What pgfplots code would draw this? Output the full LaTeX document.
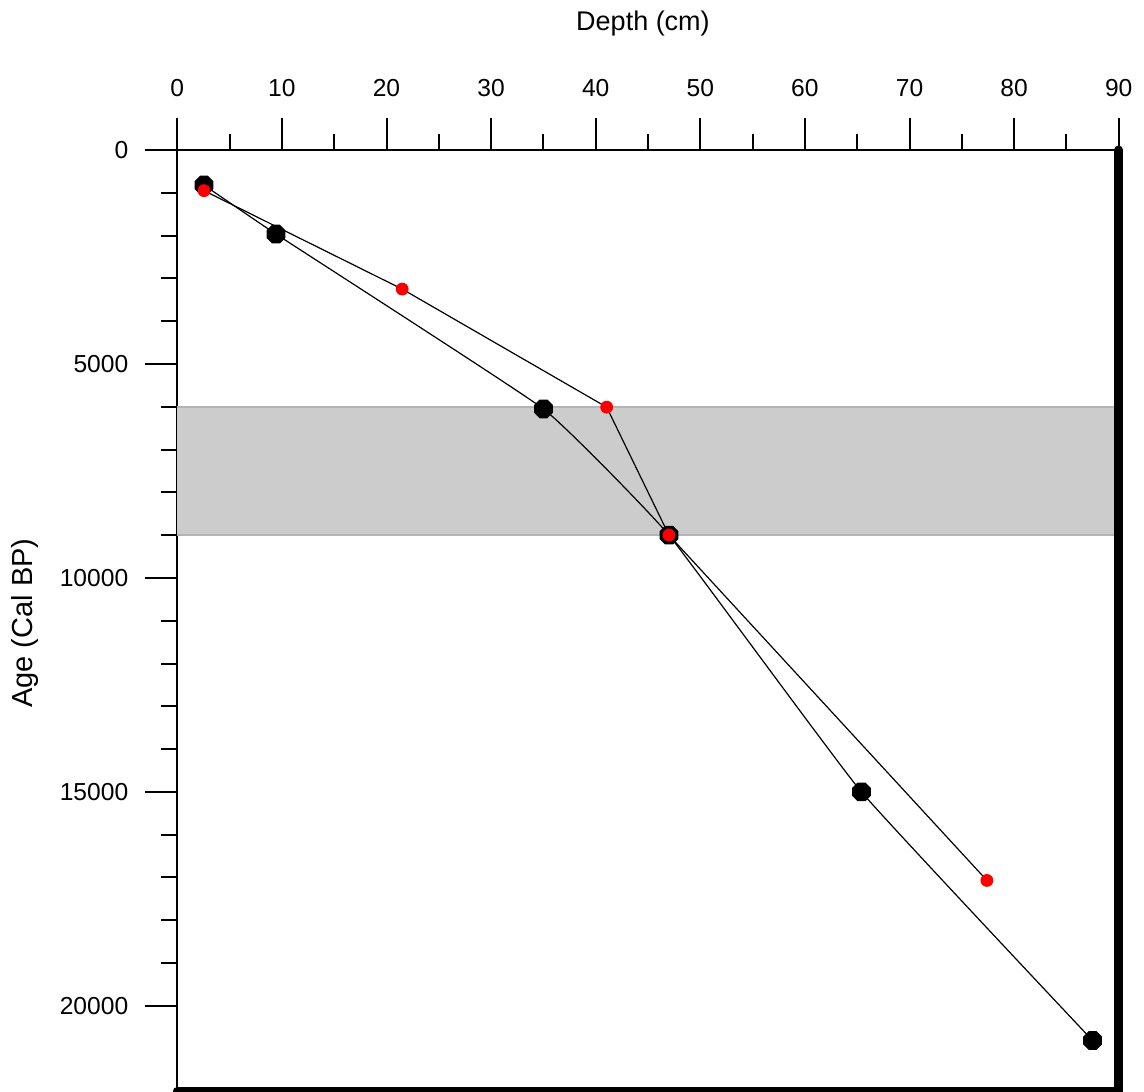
\documentclass[border=0pt]{standalone}
\usepackage{fontspec}
\setmainfont{Liberation Sans}
\usepackage{pgfplots}
\pgfplotsset{compat=1.18}
\pgfdeclareplotmark{oct}{%
  \pgfpathmoveto{\pgfpointpolar{22.5}{\pgfplotmarksize}}%
  \pgfpathlineto{\pgfpointpolar{67.5}{\pgfplotmarksize}}%
  \pgfpathlineto{\pgfpointpolar{112.5}{\pgfplotmarksize}}%
  \pgfpathlineto{\pgfpointpolar{157.5}{\pgfplotmarksize}}%
  \pgfpathlineto{\pgfpointpolar{202.5}{\pgfplotmarksize}}%
  \pgfpathlineto{\pgfpointpolar{247.5}{\pgfplotmarksize}}%
  \pgfpathlineto{\pgfpointpolar{292.5}{\pgfplotmarksize}}%
  \pgfpathlineto{\pgfpointpolar{337.5}{\pgfplotmarksize}}%
  \pgfpathclose
  \pgfusepathqfillstroke}
\definecolor{band}{RGB}{204,204,204}
\definecolor{bandedge}{RGB}{180,180,180}
\begin{document}
\begin{tikzpicture}
\begin{axis}[
  scale only axis, width=470.7pt, height=470.7pt,
  xmin=0, xmax=90, ymin=0, ymax=22000,
  y dir=reverse,
  axis x line*=top, axis y line*=left,
  axis line style={line width=1pt, -},
  xtick={0,10,...,90}, minor x tick num=1,
  ytick={0,5000,...,20000}, minor y tick num=4,
  tick align=outside,
  major tick length=16pt, minor tick length=8.25pt,
  every tick/.style={line width=1pt, black},
  ticklabel style={font=\fontsize{12.3}{14}\selectfont},
  xticklabel style={yshift=7pt},
  yticklabel style={xshift=-5pt},
  /pgf/number format/assume math mode=true,
  /pgf/number format/1000 sep={},
  scaled y ticks=false,
  clip=false,
]
\addplot[draw=none, fill=band] coordinates {(0,6000) (90,6000) (90,9000) (0,9000)} -- cycle;
\addplot[bandedge, line width=0.8pt] coordinates {(0,6000) (90,6000)};
\addplot[bandedge, line width=0.8pt] coordinates {(0,9000) (90,9000)};
% black series (octagons)
\addplot[black, line width=0.6pt, smooth, tension=0.2, mark=oct, mark size=4.8pt,
  mark options={fill=black, line width=0.5pt}] coordinates {
  (2.55,820) (9.44,1965) (35.0,6050) (47.0,9000) (65.4,15000) (87.5,20810)
};
% red series
\addplot[black, line width=0.6pt, mark=*, mark size=2.9pt,
  mark options={fill=red, draw=red}] coordinates {
  (2.55,950) (21.5,3250) (41.05,6010) (47.0,9000) (77.4,17070)
};
\draw[line width=4.5pt, line cap=round] (axis description cs:1,1) -- (axis description cs:1,0) -- (axis description cs:0,0);
\node[font=\fontsize{13.5}{16}\selectfont, yshift=63pt, xshift=-2.5pt] at (axis description cs:0.5,1) {Depth (cm)};
\coordinate (SW) at (axis description cs:0,0);
\coordinate (NE) at (axis description cs:1,1);
\coordinate (ML) at (axis description cs:0,0.5);
\end{axis}
\node[font=\fontsize{14.5}{16}\selectfont, rotate=90] at ([xshift=-76pt,yshift=-1.2pt]ML) {Age (Cal BP)};
\pgfresetboundingbox
\path ([xshift=-88.65pt]SW) rectangle ([xshift=12.65pt,yshift=75pt]NE);
\end{tikzpicture}
\end{document}
